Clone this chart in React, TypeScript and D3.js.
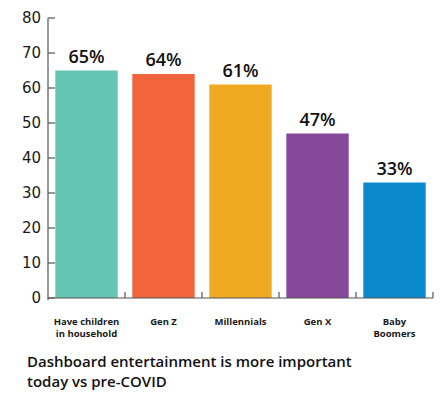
import React, { useEffect, useRef } from "react";
import * as d3 from "d3";

const categories = ["Have children\nin household", "Gen Z", "Millennials", "Gen X", "Baby\nBoomers"];
const values = [65, 64, 61, 47, 33];
const colors = ["#64c5b5", "#f2643b", "#f0aa22", "#86489a", "#0a89cf"];
const yTicks = [0, 10, 20, 30, 40, 50, 60, 70, 80];
const titleLines = ["Dashboard entertainment is more important", "today vs pre-COVID"];

const width = 447;
const height = 398;

export default function App() {
  const svgRef = useRef<SVGSVGElement>(null);

  useEffect(() => {
    if (!svgRef.current) return;
    const svg = d3.select(svgRef.current);
    svg.selectAll("*").remove();

    const left = 48;
    const right = 433;
    const top = 18;
    const bottom = 298;

    const x = d3.scaleBand().domain(categories).range([left, right]).paddingInner(0.19).paddingOuter(0.095);
    const y = d3.scaleLinear().domain([0, 80]).range([bottom, top]);

    // y axis
    const yAxis = svg.append("g").attr("transform", `translate(${left},0)`);
    yAxis
      .append("line")
      .attr("x1", 0)
      .attr("x2", 0)
      .attr("y1", top)
      .attr("y2", bottom + 2)
      .attr("stroke", "#555")
      .attr("stroke-width", 1.2);
    yTicks.forEach((t) => {
      yAxis
        .append("line")
        .attr("x1", 0)
        .attr("x2", 7)
        .attr("y1", y(t))
        .attr("y2", y(t))
        .attr("stroke", "#555")
        .attr("stroke-width", 1.2);
      yAxis
        .append("text")
        .attr("x", -7)
        .attr("y", y(t))
        .attr("dy", "0.36em")
        .attr("text-anchor", "end")
        .style("font-family", "DejaVu Sans, Verdana, sans-serif")
        .style("font-size", "15px")
        .style("fill", "#1a1a1a")
        .text(t);
    });

    // bars
    svg
      .selectAll(".bar")
      .data(values)
      .enter()
      .append("rect")
      .attr("class", "bar")
      .attr("x", (_, i) => x(categories[i])!)
      .attr("y", (d) => y(d))
      .attr("width", x.bandwidth())
      .attr("height", (d) => bottom - y(d))
      .attr("fill", (_, i) => colors[i]);

    // value labels
    svg
      .selectAll(".val")
      .data(values)
      .enter()
      .append("text")
      .attr("class", "val")
      .attr("x", (_, i) => x(categories[i])! + x.bandwidth() / 2)
      .attr("y", (d) => y(d) - 8)
      .attr("text-anchor", "middle")
      .style("font-family", "Open Sans, sans-serif")
      .style("font-size", "18px")
      .style("font-weight", "600")
      .style("fill", "#111")
      .text((d) => `${d}%`);

    // x axis
    svg
      .append("line")
      .attr("x1", left)
      .attr("x2", right)
      .attr("y1", bottom)
      .attr("y2", bottom)
      .attr("stroke", "#555")
      .attr("stroke-width", 1.2);
    const step = x.step();
    categories.forEach((_, i) => {
      const bx = left + step * (i + 1);
      svg
        .append("line")
        .attr("x1", bx)
        .attr("x2", bx)
        .attr("y1", bottom - 6)
        .attr("y2", bottom)
        .attr("stroke", "#555")
        .attr("stroke-width", 1.2);
    });

    categories.forEach((c) => {
      const lines = c.split("\n");
      const t = svg
        .append("text")
        .attr("x", x(c)! + x.bandwidth() / 2)
        .attr("y", 324.5)
        .attr("text-anchor", "middle")
        .style("font-family", "Open Sans, sans-serif")
        .style("font-size", "9.5px")
        .style("font-weight", "700")
        .style("fill", "#1a1a1a");
      lines.forEach((l, j) => {
        t.append("tspan")
          .attr("x", x(c)! + x.bandwidth() / 2)
          .attr("dy", j === 0 ? 0 : 12)
          .text(l);
      });
    });

    // caption
    titleLines.forEach((l, i) => {
      svg
        .append("text")
        .attr("x", 27)
        .attr("y", 367 + i * 20)
        .style("font-family", "Open Sans, sans-serif")
        .style("font-size", "15px")
        .style("font-weight", "600")
        .style("fill", "#111")
        .text(l);
    });
  }, []);

  return (
    <div style={{ position: "absolute", left: 0, top: 0 }}>
      <svg ref={svgRef} width={width} height={height} style={{ display: "block", background: "#fff" }} />
    </div>
  );
}
